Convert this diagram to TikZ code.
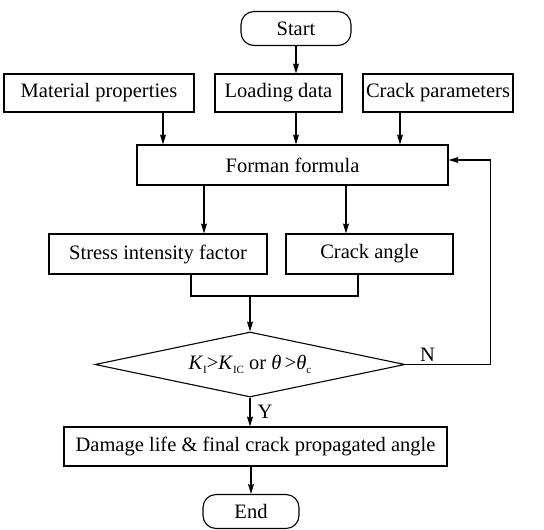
\documentclass[tikz,border=0pt]{standalone}
\usepackage{fontspec}
\setmainfont{Liberation Serif}
\usetikzlibrary{arrows.meta,shapes.geometric}
\newcommand{\flowEdge}[2]{%
  \draw[-{Stealth[length=10pt,width=6pt,inset=1.5pt]}] (#1) -- (#2);%
}
\newcommand{\lowSub}[1]{\raisebox{-0.35ex}{\fontsize{11}{12}\selectfont #1}}

\begin{document}
\begin{tikzpicture}[
  x=1pt,
  y=-1pt,
  line width=1.1pt,
  every node/.style={font=\fontsize{20.5}{24}\selectfont, align=center, inner sep=2pt},
  stepBox/.style={draw, rectangle, minimum height=39pt},
  termBox/.style={draw, rounded corners=13pt, minimum height=34pt},
  checkBox/.style={draw, diamond, aspect=4.77, inner sep=0pt, minimum width=310pt, minimum height=65pt}
]
  \useasboundingbox (0,0) rectangle (544,530);

  % Terminals.
  \node[termBox, minimum width=110pt] (start) at (296, 28.5) {Start};
  \node[termBox, minimum width=96pt] (end) at (251, 511.5) {End};

  % Input data.
  \node[stepBox, minimum width=190pt, minimum height=38pt] (material) at (99, 93) {Material properties};
  \node[stepBox, minimum width=127pt, minimum height=38pt] (loading) at (278.5, 93) {Loading data};
  \node[stepBox, minimum width=150pt, minimum height=38pt] (crackpar) at (438, 93) {Crack parameters};

  % Growth model.
  \node[stepBox, minimum width=311pt, minimum height=40pt] (forman) at (292.5, 165) {Forman formula};
  \node[stepBox, minimum width=218pt, minimum height=40pt] (sif) at (158, 254) {Stress intensity factor};
  \node[stepBox, minimum width=167pt, minimum height=40pt] (angle) at (369.5, 254) {Crack angle};

  % Criterion and result.
  \node[checkBox] (check) at (250, 364.5) {\raisebox{0.3ex}{\textit{K}\lowSub{I}>\textit{K}\lowSub{IC} or \textit{θ}\,>\textit{θ}\lowSub{c}}};
  \node[stepBox, minimum width=383pt] (damage) at (255.5, 446.5) {Damage life \& final crack propagated angle};

  \coordinate (join) at (250, 296);

  % Edges.
  \flowEdge{start.south}{start |- loading.north}
  \flowEdge{[xshift=64pt]material.south}{[xshift=64pt]material.south |- forman.north}
  \flowEdge{start |- loading.south}{start |- forman.north}
  \flowEdge{[xshift=-38pt]crackpar.south}{[xshift=-38pt]crackpar.south |- forman.north}
  \flowEdge{[xshift=46pt]sif.north |- forman.south}{[xshift=46pt]sif.north}
  \flowEdge{[xshift=-23.5pt]angle.north |- forman.south}{[xshift=-23.5pt]angle.north}
  \draw ([xshift=33pt]sif.south) |- (join) -| ([xshift=-11.5pt]angle.south);
  \flowEdge{join}{check.north}
  \draw[-{Stealth[length=10pt,width=6pt,inset=1.5pt]}] (check.east) -- ++(85,0) |- ([yshift=5pt]forman.east);
  \flowEdge{check.south}{check.south |- damage.north}
  \flowEdge{end |- damage.south}{end.north}

  % Branch labels.
  \node[anchor=south west, xshift=12pt] (nolabel) at (check.east) {N};
  \node[anchor=west] (yeslabel) at (255, 412) {Y};
\end{tikzpicture}
\end{document}
